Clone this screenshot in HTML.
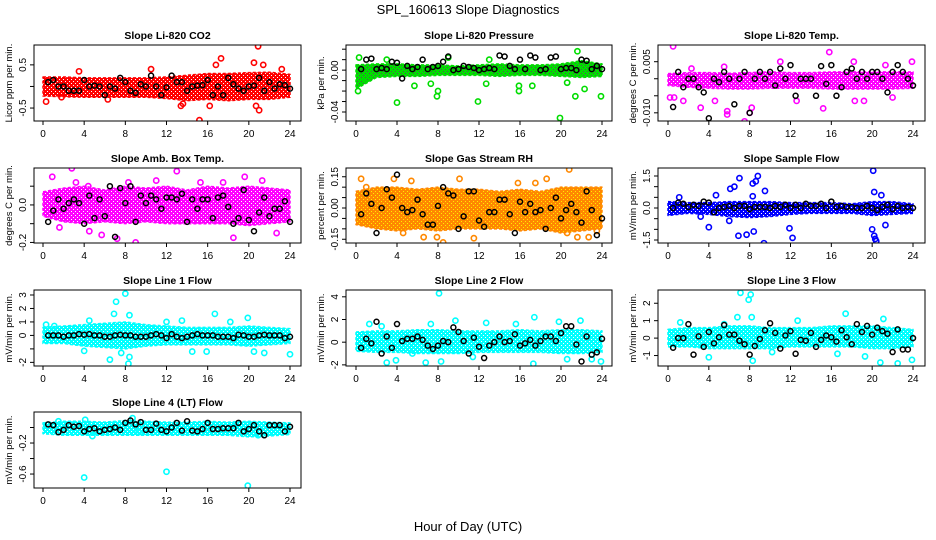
<!DOCTYPE html>
<html><head><meta charset="utf-8"><style>
html,body{margin:0;padding:0;background:#fff;}
svg{display:block;font-family:"Liberation Sans",sans-serif;}
</style></head><body>
<svg id="chart" width="936" height="540" viewBox="0 0 936 540" xmlns="http://www.w3.org/2000/svg">
<rect width="936" height="540" fill="#fff"/>
<defs id="defs"></defs>
<text x="468" y="14" text-anchor="middle" font-size="13">SPL_160613  Slope Diagnostics</text>
<text x="468" y="531" text-anchor="middle" font-size="13">Hour of Day (UTC)</text>
</svg>
<script>
// ---------- data ----------
const bandHours = [0,2,4,6,8,10,12,14,16,18,20,22,24];
const blackHours = [0.5,1,1.5,2,2.5,3,3.5,4,4.5,5,5.5,6,6.5,7,7.5,8,8.5,9,9.5,10,10.5,11,11.5,12,12.5,13,13.5,14,14.5,15,15.5,16,16.5,17,17.5,18,18.5,19,19.5,20,20.5,21,21.5,22,22.5,23,23.5,24];

const co2BandHi = [0.22,0.22,0.2,0.2,0.2,0.2,0.22,0.26,0.3,0.3,0.32,0.33,0.28];
const co2BandLo = [-0.22,-0.24,-0.25,-0.25,-0.25,-0.25,-0.28,-0.33,-0.3,-0.33,-0.3,-0.3,-0.25];
const co2OutH = [0.3,1.8,10.5,13.4,13.6,15.2,16.2,16.8,17.3,20.5,20.9,20.7,21,21.4,23.2,3.5,6.3];
const co2OutV = [-0.35,-0.25,0.4,-0.45,-0.4,-0.78,-0.45,0.5,0.65,0.55,0.93,-0.45,-0.55,0.5,0.4,0.35,-0.3];
const co2Black = [0.1,0.15,0,0,-0.1,-0.1,-0.1,0.15,0,0.02,0,-0.2,0,-0.05,0.2,0.1,-0.1,-0.15,0.05,0,0.25,0,-0.2,-0.02,0.25,0.1,0.1,-0.1,0,0.02,0.03,0.15,-0.2,0,-0.2,0.2,0.05,-0.05,-0.1,0,0.02,0.2,-0.1,0.1,-0.05,0.05,0.03,-0.05];

const presBandHi = [0.005,0.006,0.006,0.005,0.005,0.004,0.005,0.006,0.005,0.005,0.006,0.009,0.006];
const presBandLo = [-0.018,-0.007,-0.006,-0.006,-0.005,-0.005,-0.005,-0.006,-0.005,-0.005,-0.006,-0.007,-0.006];
const presOutH = [0.2,0.3,1,4,5.7,7.3,7.9,8,11.9,12.7,15.9,15.9,17.2,19.9,20.6,21.4,21.6,22.3,23.9,3,9,13];
const presOutV = [-0.02,0.012,-0.008,-0.031,-0.015,-0.013,-0.025,-0.02,-0.03,-0.013,-0.02,-0.015,-0.015,-0.0457,-0.012,-0.025,0.018,-0.018,-0.025,0.01,0.012,0.01];
const presBlack = [0.001,0.01,0.011,0.001,0.002,0.001,0.008,0.007,-0.008,0.004,0.001,0.003,0.01,0.001,0.003,0.004,0.008,0.013,0,0.001,0.004,0.003,0.002,0,0.001,0.002,0.001,0.014,0.013,0.004,0.001,0.01,0.001,0.014,0.012,0,0.001,0.012,0.013,0.001,0.002,0.002,0,0.01,0.009,0.001,0.004,0.001];

const tempBandHi = [0.0015,0.0018,0.0018,0.0016,0.0018,0.002,0.0018,0.0018,0.002,0.002,0.002,0.002,0.002];
const tempBandLo = [-0.002,-0.0025,-0.0028,-0.003,-0.003,-0.0028,-0.0028,-0.0028,-0.003,-0.003,-0.003,-0.003,-0.0028];
const tempOutH = [0.5,0.2,0.6,1.5,3.2,4.6,5.5,5.8,5.8,7.5,8,8.2,11,12.6,15.2,15.8,18.2,18.3,19.2,21.3,23.9,22,2.3];
const tempOutV = [0.0095,-0.0055,-0.0055,-0.0065,-0.0085,-0.0065,0.0035,-0.0105,-0.0095,-0.0125,-0.01,-0.0085,0.005,-0.0065,-0.0087,0.0078,0.005,-0.0065,-0.0065,0.004,0.005,-0.0055,0.003];
const tempBlack = [-0.0083,0.002,-0.0025,0,0,-0.0025,-0.004,-0.0116,0,-0.001,0.002,0,-0.0075,0,0.002,-0.01,0,0.002,0,0.002,-0.002,0.003,0,0.004,-0.005,0,0,0,-0.005,0.0037,-0.0015,0.004,-0.005,-0.0025,0.002,0.003,0,0.002,0,0.002,0.002,0,-0.004,0.002,0.004,0.002,0,-0.002];

const ambBandHi = [0.07,0.09,0.1,0.08,0.1,0.09,0.1,0.08,0.1,0.09,0.1,0.09,0.08];
const ambBandLo = [-0.06,-0.09,-0.1,-0.09,-0.1,-0.09,-0.1,-0.1,-0.1,-0.1,-0.11,-0.1,-0.09];
const ambOutH = [2.8,0.9,13,9,18.5,7.2,5.7,4.5,22.7,11,19.6,21.3,15.3,4.4,8.3,1.6,3.2,17.5];
const ambOutV = [0.195,0.15,0.18,-0.2,-0.175,-0.18,-0.16,-0.14,-0.15,0.13,0.15,0.13,0.12,0.1,0.12,-0.12,0.12,0.12];
const ambBlack = [-0.09,-0.03,0.03,-0.02,0.01,0.03,0.01,-0.1,0.05,-0.07,0.03,-0.06,0.1,-0.17,0.09,0.01,0.1,-0.09,0.05,0.01,0.05,0.03,-0.02,0.04,0.04,0.03,0.06,-0.09,0.03,-0.02,0.03,0.03,-0.07,0.04,0.05,-0.01,-0.1,-0.07,0.08,-0.08,-0.14,-0.04,0.04,-0.06,-0.02,-0.02,0.02,-0.09];

const rhBandHi = [0.08,0.1,0.1,0.09,0.1,0.09,0.09,0.08,0.09,0.08,0.1,0.1,0.1];
const rhBandLo = [-0.08,-0.1,-0.11,-0.1,-0.11,-0.1,-0.1,-0.1,-0.11,-0.1,-0.12,-0.11,-0.1];
const rhOutH = [20.8,8.5,7.9,4.6,6.6,11.5,17.5,18.6,10.1,3.7,0.5,5.4,21.6,15.8,22.7,20.6,1,23.5];
const rhOutV = [0.185,-0.165,-0.14,-0.12,-0.14,-0.145,0.12,0.14,0.14,0.14,0.14,0.13,-0.14,0.12,-0.14,-0.12,0.1,-0.11];
const rhBlack = [-0.03,0.07,0.02,-0.12,0,0.09,0.05,0.16,0,-0.02,-0.01,0.04,-0.03,-0.08,-0.08,0.01,0.1,0.07,0.06,-0.1,-0.04,0.08,0.08,-0.06,-0.09,-0.02,-0.02,0.04,0.04,-0.03,-0.12,0.03,-0.02,0.02,-0.02,-0.01,-0.1,0,0.05,-0.05,-0.01,0.02,-0.02,-0.07,0.08,-0.01,-0.13,-0.05];

const flowBandHi = [0.3,0.25,0.25,0.3,0.3,0.3,0.25,0.25,0.25,0.2,0.3,0.3,0.2];
const flowBandLo = [-0.35,-0.25,-0.3,-0.4,-0.45,-0.4,-0.3,-0.25,-0.25,-0.25,-0.35,-0.3,-0.25];
const flowOutH = [6.1,6.5,7,8.3,8.6,8.8,20.1,20.2,4,6.9,7.7,8.4,9.4,11.9,12.2,20,20.2,20.3,20.4,21.3,4.7,9.5,8.3,6,1.1,20.9,3.2];
const flowOutV = [0.9,1.0,1.4,1.15,1.25,1.5,1.75,0.75,-0.9,-1.3,-1.25,-1.1,-1.65,-0.95,-1.4,-1.0,-1.3,-1.45,-1.55,-0.8,0.6,0.8,0.55,-0.6,0.5,0.6,-0.4];
const flowBlack = [0,0.25,0.2,0.05,0.15,0.1,0.3,0.25,-0.2,0,0.05,0.1,0,0.1,0.1,-0.05,0.05,0.05,0.05,0,0.1,0.05,0.15,0,0.15,0,0.2,0.1,0.1,0.2,0,0.3,0.05,0.1,0.05,0.05,0,0,0.1,0,-0.1,0.05,0.15,-0.05,0.1,0,0.05,0];

const l1BandHi = [0.6,0.7,0.8,0.9,1.0,0.8,0.7,0.6,0.6,0.6,0.7,0.6,0.5];
const l1BandLo = [-0.6,-0.6,-0.8,-0.9,-1.0,-0.8,-0.7,-0.7,-0.7,-0.7,-0.8,-0.7,-0.6];
const l1OutH = [8,7.1,6.9,8.4,8.3,8.4,7.6,6.5,4,16.7,19.9,14.5,15.9,21.5,24,20.5,12,13.5,0.3,4.5,18.2,1.1];
const l1OutV = [3.1,2.5,1.6,1.5,-2.1,-1.6,-1.3,-1.8,-1.15,1.6,1.3,-1.2,-1.2,-1.3,-1.4,-1.2,1.0,1.1,0.8,1.1,1.0,0.7];
const l1Black = [0,0,0,-0.1,0,0,0.1,0.05,0.1,0,0,-0.1,-0.1,0,0.05,0,0,-0.1,-0.1,-0.1,0,0.1,0,-0.2,0.1,-0.1,-0.2,-0.1,0,0.1,0,0,0,-0.1,-0.1,-0.1,-0.2,0.05,0,-0.1,-0.1,0,0.05,0,0,0,-0.2,-0.1];

const l2BandHi = [0.9,1.0,1.0,1.1,1.1,1.0,1.0,1.0,1.1,1.0,1.1,1.1,1.0];
const l2BandLo = [-0.8,-0.9,-0.9,-1.0,-1.0,-1.0,-0.9,-0.9,-0.9,-0.9,-1.0,-1.0,-0.9];
const l2OutH = [8.1,17.4,19.8,21.9,9.7,12.7,3,3.9,6.8,8.3,17.3,20.6,23.9,11.4,5.5,1.3,7.3,15.6,23,2.5];
const l2OutV = [4.3,2.2,1.8,1.9,1.9,1.7,-1.8,-1.6,-1.8,-1.7,-1.9,-1.5,-1.7,-1.3,-1.0,1.6,1.6,1.6,-1.5,1.4];
const l2Black = [-0.5,0.3,-0.1,1.8,-1,0.5,-0.5,1.6,0.1,0.3,0.3,0.5,0.2,-0.3,-0.6,-0.3,0.1,0,1.3,0.9,0.1,-1,0.4,-0.4,-1.4,-0.3,0,0.5,0,0.1,0.7,-0.3,-0.1,0.2,-0.3,0.1,0.5,0.5,0.1,0.8,1.4,1.4,-0.2,-1.7,0.5,-1.1,-0.9,0.3];

const l3BandHi = [0.5,0.6,0.6,0.7,0.7,0.6,0.6,0.6,0.7,0.7,0.7,0.6,0.5];
const l3BandLo = [-0.5,-0.5,-0.6,-0.6,-0.6,-0.6,-0.5,-0.5,-0.5,-0.5,-0.6,-0.6,-0.5];
const l3OutH = [7.1,7.9,8.1,6.8,8.2,17.4,21.1,8.3,20.8,22.5,23.9,4,19.3,1.2,12.7,16.6,10.2,5.5];
const l3OutV = [2.6,2.2,2.5,1.2,1.2,1.4,1.1,-1.3,-1.4,-1.45,-1.25,-1.1,-1.05,0.9,1.0,-0.9,-0.8,0.8];
const l3Black = [-0.55,0,0,0.8,-0.95,0.1,-0.5,0.35,-0.3,0.05,0.75,0.2,0.2,-0.15,-0.35,-0.95,-0.45,-0.05,0.45,0.85,0.3,-0.6,0.15,0.4,-0.9,-0.1,-0.15,0.3,-0.5,-0.1,0.15,0.05,-0.2,0.45,0.05,-0.35,0.8,0.35,0.7,0.2,0.6,0.4,0.25,-0.8,0.5,-0.65,-0.65,0];

const l4BandHi = [0.06,0.08,0.08,0.07,0.09,0.08,0.07,0.07,0.08,0.07,0.08,0.07,0.06];
const l4BandLo = [-0.08,-0.1,-0.1,-0.1,-0.1,-0.1,-0.1,-0.1,-0.1,-0.1,-0.12,-0.11,-0.09];
const l4OutH = [4,12,19.9,8.7,4.1,9.3,1.5,20.9,4.8];
const l4OutV = [-0.645,-0.57,-0.75,0.12,0.1,-0.06,0.08,-0.1,-0.11];
const l4Black = [0.04,0.03,-0.06,-0.03,0.03,0.01,0.02,-0.05,-0.02,-0.01,-0.05,-0.03,-0.02,0,-0.03,0.06,0.09,0.04,0.07,-0.03,-0.03,0.05,-0.03,-0.05,0,0.06,-0.04,0.08,-0.04,-0.05,-0.02,0.06,-0.02,-0.02,-0.01,-0.01,-0.01,0.06,-0.05,-0.02,0.03,-0.05,-0.1,0.03,0.03,0.03,-0.05,0.01];

// ---------- layout ----------
const colBoxL=[34,346,658], colBoxR=[301,612,925], colX0=[43,356,668], colX24=[290,602,913];
const rowTop=[45,168,290,412], rowBot=[121,243,366,488];
const panels=[
 {name:'co2',title:'Slope Li-820 CO2',ylab:'Licor ppm per min.',col:'#ff0000',hole:'#fff',r:0,c:0,dom:[-0.8,0.96],ticks:[-0.5,0,0.5],labs:['-0.5','','0.5'],bh:co2BandHi,bl:co2BandLo,oh:co2OutH,ov:co2OutV,bk:co2Black},
 {name:'pressure',title:'Slope Li-820 Pressure',ylab:'kPa per min.',col:'#00dd00',hole:'#555',r:0,c:1,dom:[-0.0486,0.024],ticks:[-0.04,-0.03,-0.02,-0.01,0,0.01,0.02],labs:['-0.04','','','','0.00','',''],bh:presBandHi,bl:presBandLo,oh:presOutH,ov:presOutV,bk:presBlack},
 {name:'li820-temp',title:'Slope Li-820 Temp.',ylab:'degrees C per min.',col:'#ff00ff',hole:'#fff',r:0,c:2,dom:[-0.0124,0.0099],ticks:[-0.01,-0.005,0,0.005],labs:['-0.010','','','0.005'],bh:tempBandHi,bl:tempBandLo,oh:tempOutH,ov:tempOutV,bk:tempBlack},
 {name:'amb-box-temp',title:'Slope Amb. Box Temp.',ylab:'degrees C per min.',col:'#ff00ff',hole:'#fff',r:1,c:0,dom:[-0.203,0.197],ticks:[-0.2,-0.1,0,0.1],labs:['-0.2','','0.0',''],bh:ambBandHi,bl:ambBandLo,oh:ambOutH,ov:ambOutV,bk:ambBlack},
 {name:'gas-stream-rh',title:'Slope Gas Stream RH',ylab:'percent per min.',col:'#ff8800',hole:'#ffee00',r:1,c:1,dom:[-0.168,0.192],ticks:[-0.15,-0.1,-0.05,0,0.05,0.1,0.15],labs:['-0.15','','','0.00','','','0.15'],bh:rhBandHi,bl:rhBandLo,oh:rhOutH,ov:rhOutV,bk:rhBlack},
 {name:'sample-flow',title:'Slope Sample Flow',ylab:'mV/min per min.',col:'#0000ff',hole:'#fff',r:1,c:2,dom:[-1.64,1.875],ticks:[-1.5,-1,-0.5,0,0.5,1,1.5],labs:['-1.5','','','0.0','','','1.5'],bh:flowBandHi,bl:flowBandLo,oh:flowOutH,ov:flowOutV,bk:flowBlack},
 {name:'line1-flow',title:'Slope Line 1 Flow',ylab:'mV/min per min.',col:'#00ffff',hole:'#fff',r:2,c:0,dom:[-2.27,3.37],ticks:[-2,-1,0,1,2,3],labs:['-2','','0','1','2','3'],bh:l1BandHi,bl:l1BandLo,oh:l1OutH,ov:l1OutV,bk:l1Black},
 {name:'line2-flow',title:'Slope Line 2 Flow',ylab:'mV/min per min.',col:'#00ffff',hole:'#fff',r:2,c:1,dom:[-2.1,4.6],ticks:[-2,0,2,4],labs:['-2','0','2','4'],bh:l2BandHi,bl:l2BandLo,oh:l2OutH,ov:l2OutV,bk:l2Black},
 {name:'line3-flow',title:'Slope Line 3 Flow',ylab:'mV/min per min.',col:'#00ffff',hole:'#fff',r:2,c:2,dom:[-1.6,2.76],ticks:[-1,0,1,2],labs:['-1','0','1','2'],bh:l3BandHi,bl:l3BandLo,oh:l3OutH,ov:l3OutV,bk:l3Black},
 {name:'line4-flow',title:'Slope Line 4 (LT) Flow',ylab:'mV/min per min.',col:'#00ffff',hole:'#fff',r:3,c:0,dom:[-0.78,0.2],ticks:[-0.6,-0.4,-0.2,0],labs:['-0.6','','-0.2',''],bh:l4BandHi,bl:l4BandLo,oh:l4OutH,ov:l4OutV,bk:l4Black}
];
const xTicks=[0,4,8,12,16,20,24];
const NS='http://www.w3.org/2000/svg';
const svg=document.getElementById('chart');
const defs=document.getElementById('defs');
function mk(tag,attrs,parent,text){const e=document.createElementNS(NS,tag);for(const k in attrs)e.setAttribute(k,attrs[k]);if(text!==undefined)e.textContent=text;parent.appendChild(e);return e;}

panels.forEach(p=>{
  const L=colBoxL[p.c],R=colBoxR[p.c],T=rowTop[p.r],B=rowBot[p.r];
  const xs=h=>colX0[p.c]+(colX24[p.c]-colX0[p.c])*h/24;
  const ys=v=>B-(v-p.dom[0])/(p.dom[1]-p.dom[0])*(B-T);
  // texture pattern (open-circle look)
  const pat=mk('pattern',{id:'pat-'+p.name,width:4,height:4,patternUnits:'userSpaceOnUse'},defs);
  mk('rect',{width:4,height:4,fill:p.col},pat);
  mk('rect',{x:1,y:1,width:1,height:1,fill:p.hole},pat);
  mk('rect',{x:3,y:3,width:1,height:1,fill:p.hole},pat);
  const g=mk('g',{},svg);
  
  
  const t=mk('text',{x:(L+R)/2,y:T-6,'text-anchor':'middle','font-size':'10.5','font-weight':'bold'},g,p.title);
  
  
  const cp='clip-'+p.name;
  const cl=mk('clipPath',{id:cp},g); mk('rect',{x:L,y:T,width:R-L,height:B-T},cl);
  const pg=mk('g',{'clip-path':'url(#'+cp+')'},g);
  let pts=bandHours.map((h,i)=>xs(h)+','+ys(p.bh[i]));
  for(let i=bandHours.length-1;i>=0;i--)pts.push(xs(bandHours[i])+','+ys(p.bl[i]));
  const band=mk('polygon',{points:pts.join(' '),fill:'url(#pat-'+p.name+')',stroke:p.col,'stroke-width':'1.5','stroke-dasharray':'3 2','stroke-linejoin':'round'},pg);
  
  
  p.oh.forEach((h,i)=>{
    const c=mk('circle',{cx:xs(h),cy:ys(p.ov[i]),r:2.6,fill:'none',stroke:p.col,'stroke-width':'1.6'},pg);
    
    
  });
  blackHours.forEach((h,i)=>{
    const c=mk('circle',{cx:xs(h),cy:ys(p.bk[i]),r:2.5,fill:'none',stroke:'#000','stroke-width':'1.5'},pg);
    
    
  });
  const box=mk('rect',{x:L,y:T,width:R-L,height:B-T,fill:'none',stroke:'#000','stroke-width':'1'},g);
  
  
  xTicks.forEach(v=>{
    mk('line',{x1:xs(v),x2:xs(v),y1:B,y2:B+4,stroke:'#000'},g);
    const tl=mk('text',{x:xs(v),y:B+16,'text-anchor':'middle','font-size':'10'},g,String(v));
    
    
  });
  p.ticks.forEach((v,i)=>{
    const y=ys(v);
    mk('line',{x1:L,x2:L-4,y1:y,y2:y,stroke:'#000'},g);
    if(p.labs[i]){
      const tl=mk('text',{x:L-8,y:y,'text-anchor':'middle','font-size':'10',transform:'rotate(-90 '+(L-8)+' '+y+')'},g,p.labs[i]);
      
      
    }
  });
  const yl=mk('text',{x:L-22,y:(T+B)/2,'text-anchor':'middle','font-size':'9.5',transform:'rotate(-90 '+(L-22)+' '+(T+B)/2+')'},g,p.ylab);
  
  
});
</script>
</body></html>
